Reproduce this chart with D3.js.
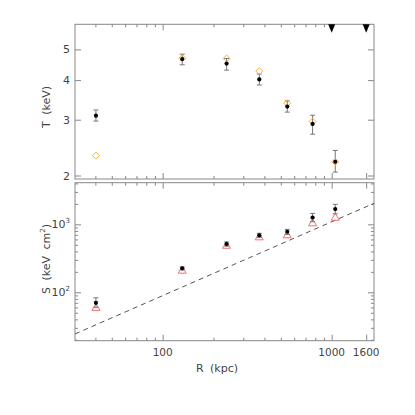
<!DOCTYPE html>
<html><head><meta charset="utf-8">
<script src="https://cdn.jsdelivr.net/npm/d3@7"></script>
<style>body{margin:0;background:#fff}text{font-family:"DejaVu Sans",Arial,sans-serif;fill:#444}</style>
</head><body><svg id="c" width="415" height="415"></svg>
<script>
const radius = [40.3, 130.6, 239, 373, 546, 771, 1050];
const tBlack = [3.09, 4.66, 4.51, 4.02, 3.30, 2.91, 2.21];
const tBlackLo = [2.97, 4.47, 4.30, 3.86, 3.17, 2.70, 2.05];
const tBlackHi = [3.22, 4.83, 4.68, 4.18, 3.44, 3.10, 2.40];
const tOrange = [2.31, 4.69, 4.68, 4.27, 3.38, 2.96, 2.21];
const sBlack = [70, 225, 513, 689, 778, 1260, 1680];
const sBlackLo = [60, 213, 478, 644, 710, 1090, 1430];
const sBlackHi = [83, 236, 550, 738, 843, 1450, 1970];
const sRed = [59, 208, 484, 644, 689, 1035, 1250];
const limitR = [1000, 1600];
const baselineR = [30.3, 1780];
const baselineS = [24.4, 2040];
const xTickLabels = [100, 1000, 1600];
const tTicks = [2, 3, 4, 5];
const sTicks = [100, 1000];

const svg = d3.select("#c");
const L = 75, R = 374;
const up = {top: 24.3, bottom: 179};
const lo = {top: 182.7, bottom: 340.7};
const x = d3.scaleLog().domain([30.3, 1780]).range([L, R]);
const yT = d3.scaleLog().domain([1.95, 6.0]).range([up.bottom, up.top]);
const yS = d3.scaleLog().domain([19.4, 4100]).range([lo.bottom, lo.top]);
const axisCol = "#888";

const xMinor = [];
[10, 100, 1000].forEach(d => { for (let k = 1; k < 10; k++) { const v = d * k; if (v >= 30.3 && v <= 1780 && ![100,1000].includes(v)) xMinor.push(v); } });

function frame(p, ys, yMaj, yMin, fmtY, showX) {
  const g = svg.append("g");
  g.append("rect").attr("x", L).attr("y", p.top).attr("width", R - L).attr("height", p.bottom - p.top)
    .attr("fill", "none").attr("stroke", axisCol).attr("stroke-width", 1);
  const ax = [
    [d3.axisBottom(x).tickValues(xTickLabels).tickSize(-6), p.bottom],
    [d3.axisTop(x).tickValues(xTickLabels).tickSize(-6), p.top],
    [d3.axisBottom(x).tickValues(xMinor).tickSize(-3), p.bottom],
    [d3.axisTop(x).tickValues(xMinor).tickSize(-3), p.top]
  ];
  ax.forEach(([a, y0]) => {
    const gg = g.append("g").attr("transform", `translate(0,${y0})`).call(a.tickFormat(""));
    gg.select(".domain").remove();
    gg.selectAll("line").attr("stroke", axisCol);
  });
  const yax = [
    [d3.axisLeft(ys).tickValues(yMaj).tickSize(-6), L],
    [d3.axisRight(ys).tickValues(yMaj).tickSize(-6), R],
    [d3.axisLeft(ys).tickValues(yMin).tickSize(-3), L],
    [d3.axisRight(ys).tickValues(yMin).tickSize(-3), R]
  ];
  yax.forEach(([a, x0]) => {
    const gg = g.append("g").attr("transform", `translate(${x0},0)`).call(a.tickFormat(""));
    gg.select(".domain").remove();
    gg.selectAll("line").attr("stroke", axisCol);
  });
  yMaj.forEach(v => fmtY(g, v, ys(v)));
  if (showX) {
    xTickLabels.forEach(v => g.append("text").attr("x", x(v)).attr("y", p.bottom + 15)
      .attr("text-anchor", "middle").attr("font-size", 10.5).text(v));
  }
  return g;
}

frame(up, yT, tTicks, [], (g, v, y) => g.append("text").attr("x", L - 5).attr("y", y + 4)
  .attr("text-anchor", "end").attr("font-size", 11).text(v), false);

const sMinor = [];
[10, 100, 1000].forEach(d => { for (let k = 2; k < 10; k++) { const v = d * k; if (v >= 19.4 && v <= 4100) sMinor.push(v); } });
frame(lo, yS, sTicks, sMinor, (g, v, y) => {
  const t = g.append("text").attr("x", L - 5).attr("y", y + 4).attr("text-anchor", "end").attr("font-size", 11);
  t.append("tspan").text("10");
  t.append("tspan").attr("font-size", 7).attr("dy", -5).text(Math.round(Math.log10(v)));
}, true);

svg.append("text").attr("transform", `translate(50,107) rotate(-90)`).attr("text-anchor", "middle")
  .attr("font-size", 11).attr("word-spacing", 3).text("T (keV)");
const st = svg.append("text").attr("transform", `translate(50,259) rotate(-90)`).attr("text-anchor", "middle")
  .attr("font-size", 11).attr("word-spacing", 3);
st.append("tspan").text("S (keV cm");
st.append("tspan").attr("font-size", 7).attr("dy", -5).text("2");
st.append("tspan").attr("dy", 5).text(")");
svg.append("text").attr("x", 217).attr("y", 372).attr("text-anchor", "middle").attr("font-size", 11)
  .attr("word-spacing", 3).text("R (kpc)");

const gu = svg.append("g");
radius.forEach((r, i) => {
  const cx = x(r);
  gu.append("line").attr("x1", cx).attr("x2", cx).attr("y1", yT(tBlackLo[i])).attr("y2", yT(tBlackHi[i])).attr("stroke", "#777");
  [tBlackLo[i], tBlackHi[i]].forEach(v => gu.append("line").attr("x1", cx - 2.5).attr("x2", cx + 2.5)
    .attr("y1", yT(v)).attr("y2", yT(v)).attr("stroke", "#777"));
});
radius.forEach((r, i) => {
  const cx = x(r), cy = yT(tOrange[i]);
  gu.append("path").attr("d", `M${cx},${cy-3.5}L${cx+3.5},${cy}L${cx},${cy+3.5}L${cx-3.5},${cy}Z`)
    .attr("fill", "none").attr("stroke", "#f7b04a").attr("stroke-width", 1);
});
radius.forEach((r, i) => {
  gu.append("circle").attr("cx", x(r)).attr("cy", yT(tBlack[i])).attr("r", 2.1).attr("fill", "#000");
});
limitR.forEach(r => {
  const cx = x(r), t = up.top;
  gu.append("path").attr("d", `M${cx-3.5},${t}L${cx+3.5},${t}L${cx},${t+8.5}Z`).attr("fill", "#000");
});

const gl = svg.append("g");
gl.append("line").attr("x1", x(baselineR[0])).attr("y1", yS(baselineS[0])).attr("x2", x(baselineR[1])).attr("y2", yS(baselineS[1]))
  .attr("stroke", "#555").attr("stroke-dasharray", "5,4").attr("stroke-width", 1);
radius.forEach((r, i) => {
  const cx = x(r), cy = yS(sRed[i]);
  gl.append("path").attr("d", `M${cx},${cy-4.5}L${cx+4},${cy+2.5}L${cx-4},${cy+2.5}Z`)
    .attr("fill", "none").attr("stroke", "#f07070").attr("stroke-width", 1);
});
radius.forEach((r, i) => {
  const cx = x(r);
  gl.append("line").attr("x1", cx).attr("x2", cx).attr("y1", yS(sBlackLo[i])).attr("y2", yS(sBlackHi[i])).attr("stroke", "#777");
  [sBlackLo[i], sBlackHi[i]].forEach(v => gl.append("line").attr("x1", cx - 2.5).attr("x2", cx + 2.5)
    .attr("y1", yS(v)).attr("y2", yS(v)).attr("stroke", "#777"));
  gl.append("circle").attr("cx", cx).attr("cy", yS(sBlack[i])).attr("r", 2.1).attr("fill", "#000");
});
</script></body></html>
